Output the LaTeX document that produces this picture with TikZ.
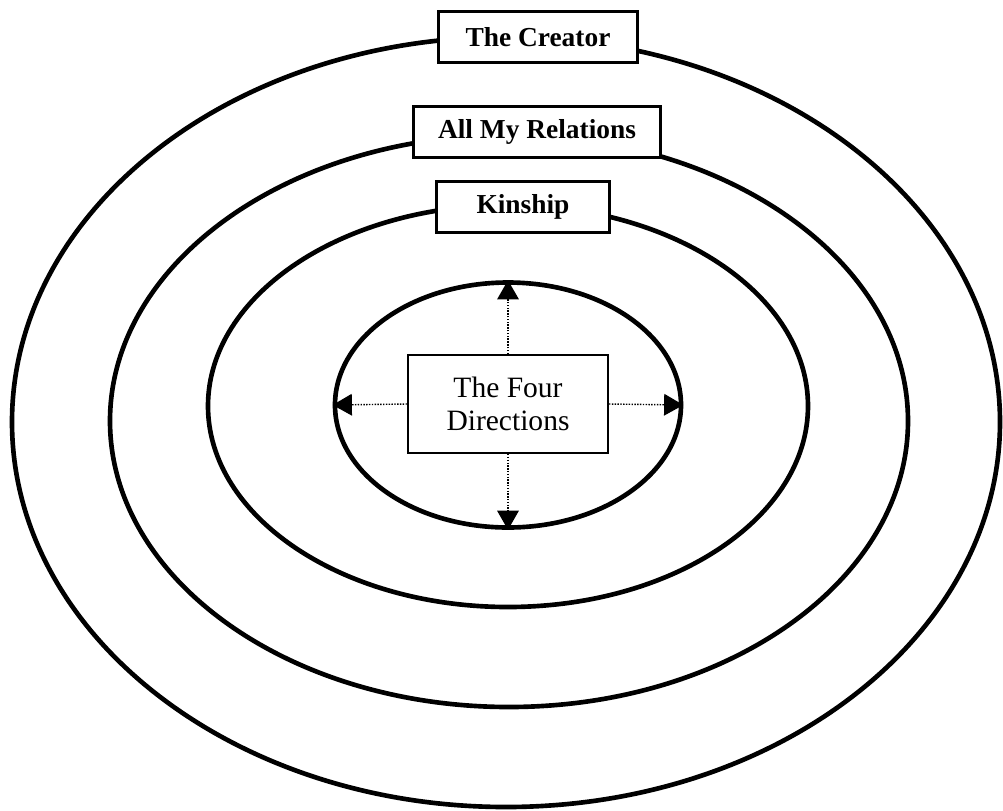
\documentclass[tikz,border=0pt]{standalone}
\usepackage{fontspec}
\setmainfont{Liberation Serif}
\usepackage{tikz}
\usetikzlibrary{
    shapes.geometric,
    arrows.meta,
    positioning
}
\tikzset{
    ring/.style={
        ellipse, draw=black, line width=3.3pt, inner sep=0pt, fill=none
    },
    lbox/.style={
        rectangle, draw=black, line width=1.5pt, fill=white,
        minimum height=1.275cm, inner sep=2pt,
        font=\fontsize{19.5}{22}\selectfont\bfseries
    },
    cbox/.style={
        rectangle, draw=black, line width=1.5pt, fill=white,
        minimum width=5.0cm, minimum height=2.45cm, align=center,
        font=\fontsize{21}{23}\selectfont
    },
    darr/.style={-{Triangle[length=4.8mm, width=5.4mm]}, line width=1pt, densely dotted, black},
}
\begin{document}
\begin{tikzpicture}

    \useasboundingbox (0,0) rectangle (25.075,-20.25);

    % the four rings
    \node [ring, minimum width=24.7cm, minimum height=19.25cm] (creator) at (12.65,-10.55) {};
    \node [ring, minimum width=19.95cm, minimum height=14.3cm] (relations) at (12.725,-10.525) {};
    \node [ring, minimum width=15.0cm, minimum height=10.05cm] (kinship) at (12.7,-10.15) {};
    \node [ring, minimum width=8.65cm, minimum height=6.125cm] (inner) at (12.7,-10.125) {};

    % labels on the rings
    \node [lbox, minimum width=4.975cm] (creatorlbl) at (13.45,-0.925) {The Creator};
    \node [lbox, minimum width=6.175cm] (relationslbl) at (13.425,-3.3) {All My Relations};
    \node [lbox, minimum width=4.325cm] (kinshiplbl) at (13.075,-5.175) {Kinship};

    \node [cbox] (dirs) at (12.7,-10.1) {The Four\\Directions};

    \draw [darr] (dirs.north) -- (inner.north);
    \draw [darr] (dirs.south) -- (inner.south);
    \draw [darr] (dirs.west) -- (inner.west);
    \draw [darr] (dirs.east) -- (inner.east);

\end{tikzpicture}
\end{document}
